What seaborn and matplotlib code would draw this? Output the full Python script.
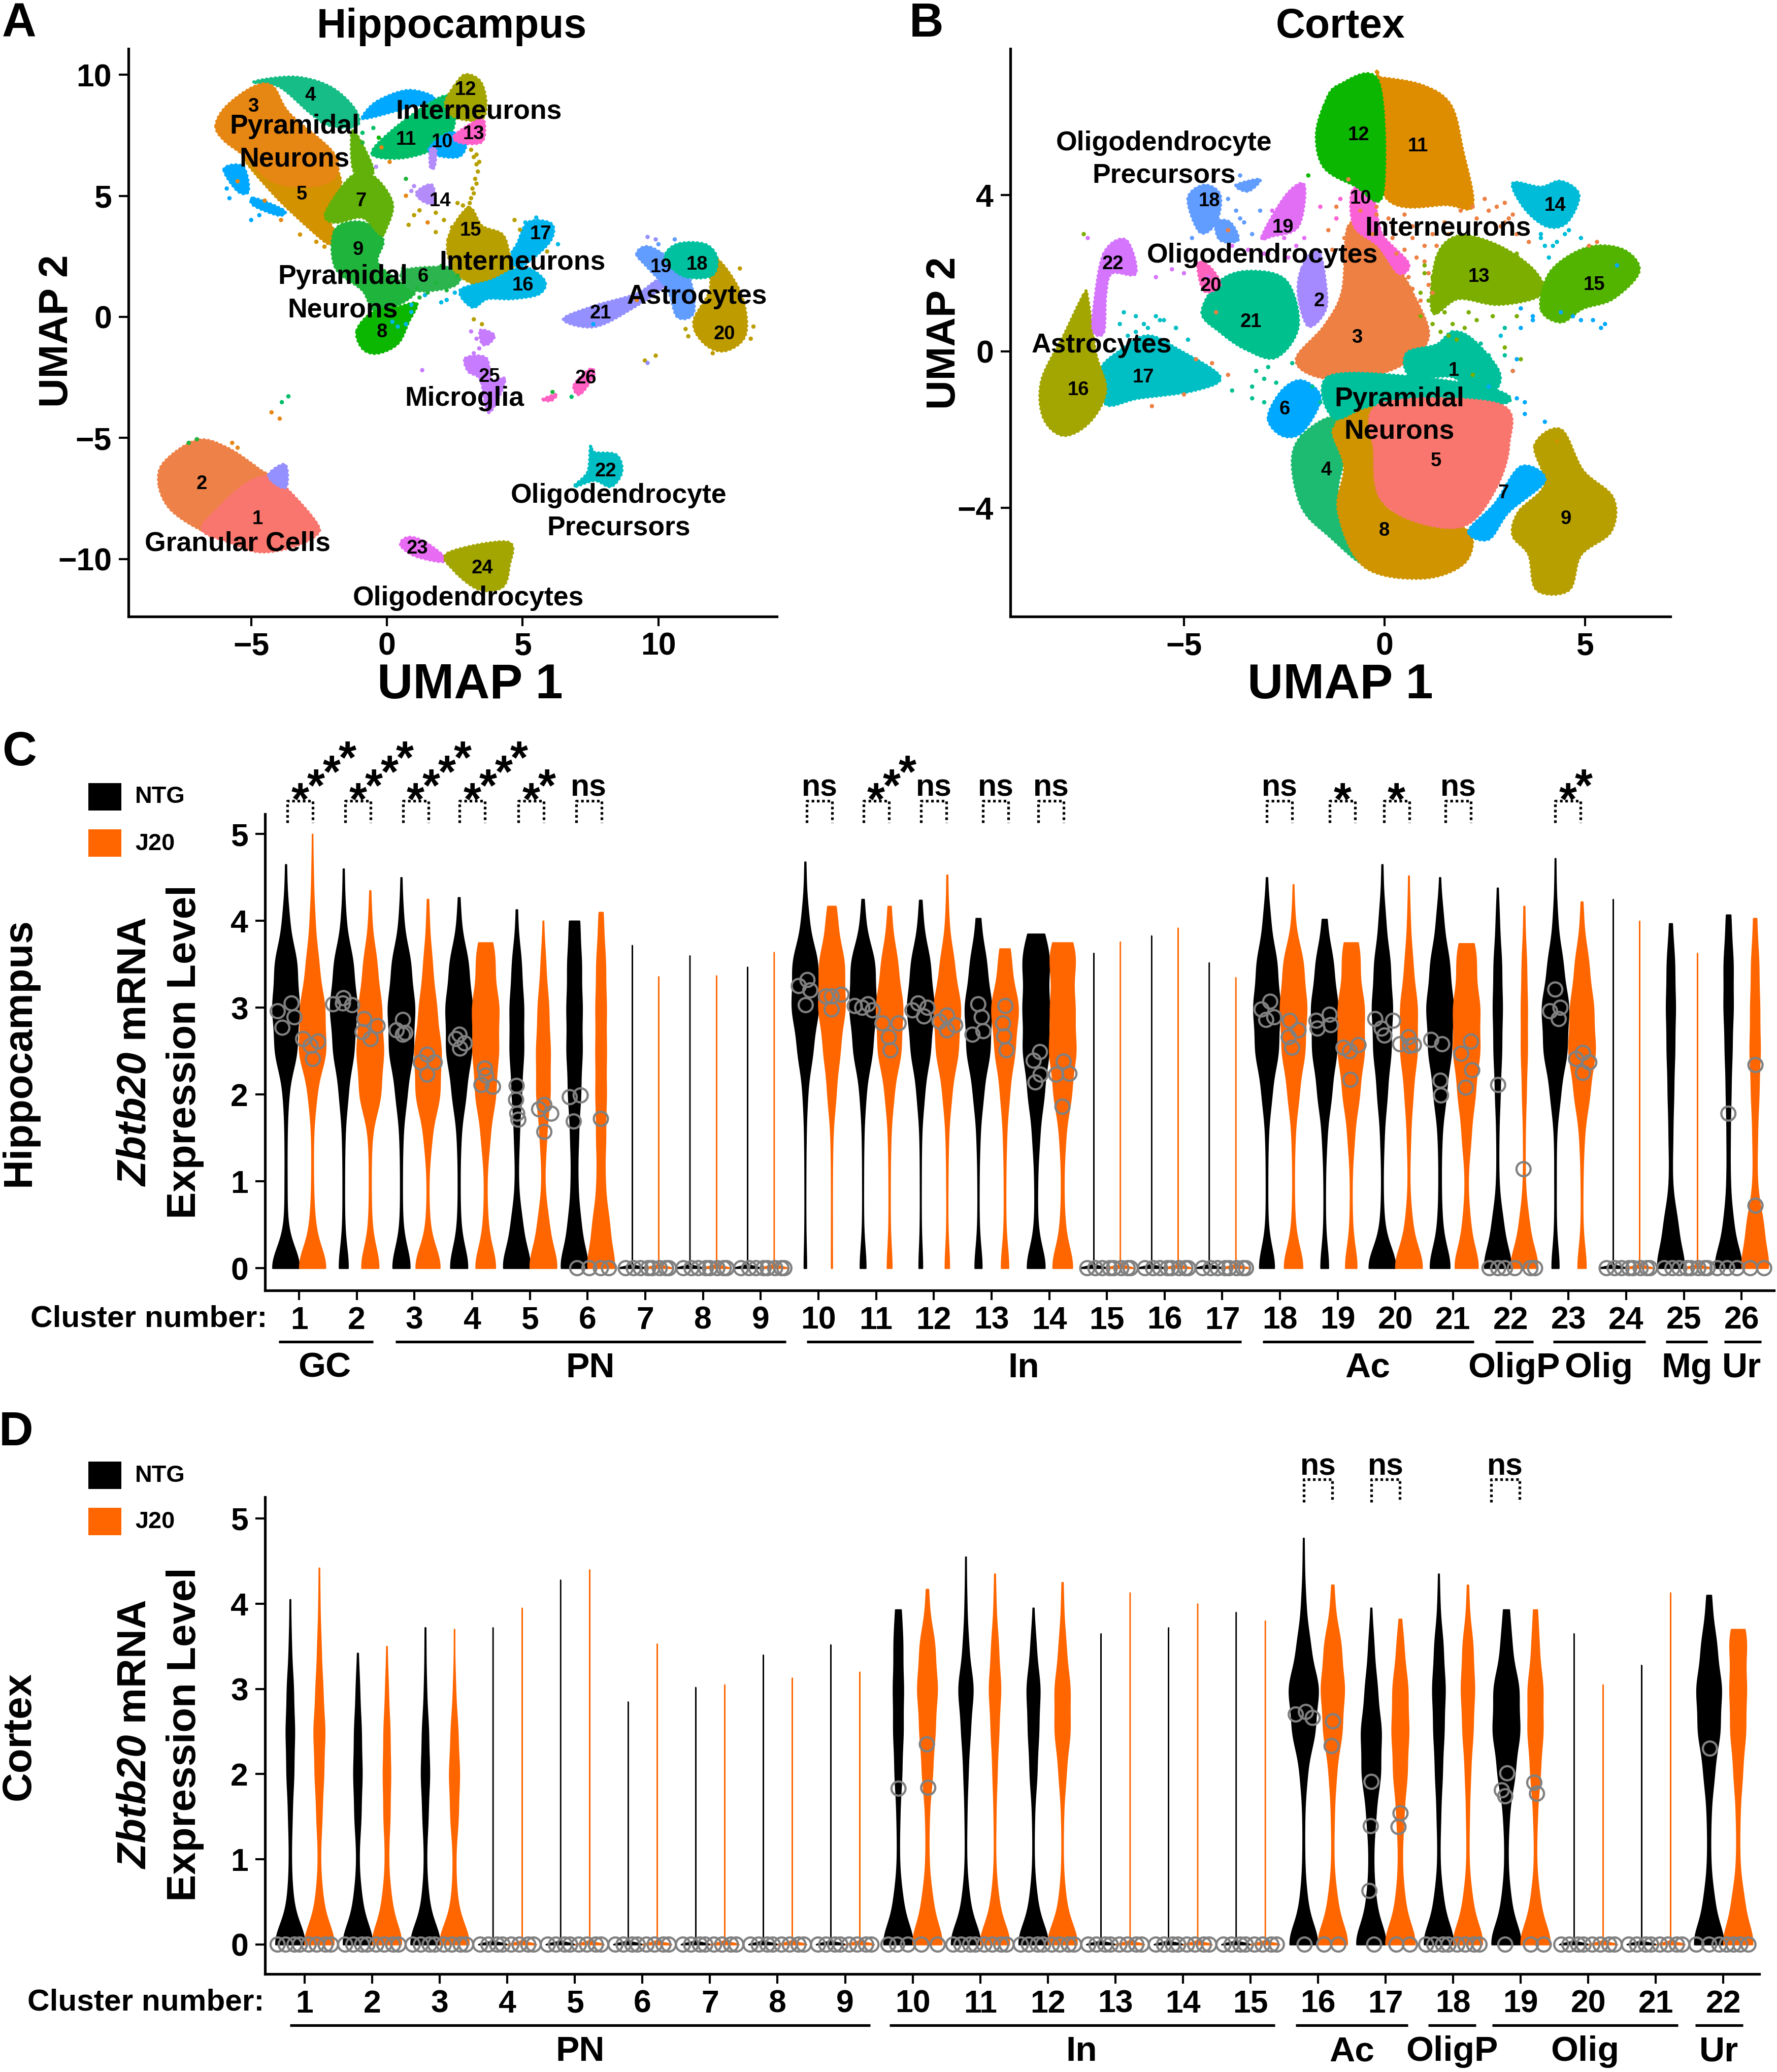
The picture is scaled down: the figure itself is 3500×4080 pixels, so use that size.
import numpy as np, pandas as pd
import matplotlib
matplotlib.use("Agg")
import matplotlib.pyplot as plt
from matplotlib.patches import Rectangle, PathPatch
from matplotlib.path import Path
import seaborn as sns

W, H, DPI = 3500, 4080, 250
NTG_C, J20_C, GRAY = "#000000", "#FF6600", "#808080"

# ---------- UMAP colours ----------
a_colors = {1:"#F8766D",2:"#EE8148",3:"#E68613",4:"#17BD86",5:"#D39200",6:"#2CB54F",7:"#62B10A",8:"#0CB702",9:"#1FB53C",
 10:"#00A9FF",11:"#00BE67",12:"#A3A500",13:"#FF61C9",14:"#B48CFA",15:"#B79F00",16:"#00B8E7",17:"#00B4F0",18:"#00C19F",
 19:"#619CFF",20:"#BE9C00",21:"#9590FF",22:"#00BFC4",23:"#E76BF3",24:"#A3A500",25:"#C77CFF",26:"#FF61C3"}
b_colors = {1:"#00C09B",2:"#A58AFF",3:"#EE8043",4:"#1DBB72",5:"#F8766D",6:"#00A9FF",7:"#00ACFC",8:"#CF9400",9:"#B79F00",
 10:"#FB61D7",11:"#DE8C00",12:"#0CB702",13:"#7CAE00",14:"#00BCD8",15:"#53B400",16:"#A3A500",17:"#00BFC4",18:"#619CFF",
 19:"#E36EF6",20:"#FF62BC",21:"#00C08E",22:"#D575FE"}

# ---------- Hippocampus UMAP cluster outlines (UMAP 1, UMAP 2) ----------
a02=[(-8.4,-6.9),(-8.2,-6.0),(-7.0,-5.1),(-5.9,-5.4),(-4.7,-6.3),(-4.0,-7.0),(-5.5,-8.5),(-6.1,-9.0),(-7.0,-8.7),(-8.0,-7.9)]
a01=[(-6.3,-8.0),(-5.2,-6.9),(-4.3,-6.6),(-3.6,-7.2),(-2.6,-8.5),(-2.6,-9.0),(-3.5,-9.5),(-4.7,-9.7),(-5.8,-9.3),(-6.8,-8.8)]
a21b=[(-4.35,-6.5),(-3.75,-6.1),(-3.7,-7.0),(-4.1,-6.9)]
a04=[(-4.9,9.7),(-3.4,9.9),(-2.1,9.5),(-1.2,8.6),(-1.1,7.9),(-2.1,7.9),(-2.8,8.4),(-3.95,9.5)]
a05=[(-5.3,6.7),(-4.2,6.7),(-2.4,6.6),(-1.7,5.6),(-2.1,4.1),(-1.9,3.4),(-2.1,3.0),(-2.8,3.6),(-4.2,5.1)]
a03=[(-6.3,7.9),(-5.9,8.7),(-4.9,9.5),(-4.2,9.5),(-3.6,8.4),(-2.0,6.8),(-1.9,5.8),(-2.8,5.4),(-4.2,5.6),(-5.3,6.7),(-6.0,7.3)]
a10b=[(-6.0,6.1),(-5.3,6.2),(-5.1,5.2),(-5.5,5.2)]
a10c=[(-4.9,4.9),(-3.8,4.4),(-4.0,4.2),(-4.9,4.6)]
a09=[(-1.9,3.6),(-0.9,3.9),(-0.15,3.2),(-0.35,2.25),(0.4,1.5),(1.0,0.95),(-0.35,0.2),(-0.9,1.1),(-1.9,2.05)]
a07=[(-2.25,4.3),(-1.3,5.8),(-0.5,5.8),(0.2,4.7),(-0.05,3.6),(-0.25,3.4),(-0.9,4.1),(-1.9,3.9)]
a07b=[(-1.3,7.5),(-1.1,7.5),(-0.5,6.0),(-1.2,6.0)]
a06=[(0.6,1.9),(2.5,2.0),(2.5,1.3),(1.0,1.1)]
a08=[(-1.1,-0.55),(-0.5,0.2),(0.4,0.4),(1.1,0.55),(0.8,-0.2),(0.4,-1.1),(-0.35,-1.5),(-0.9,-1.3)]
a10d=[(-0.9,8.25),(-0.35,8.9),(0.8,9.35),(1.75,9.0),(0.6,8.6),(-0.55,8.25)]
a11=[(-0.55,6.75),(0.2,7.7),(1.55,8.8),(2.3,9.1),(2.5,8.25),(2.3,7.5),(1.55,6.85),(0.4,6.55)]
a12=[(2.5,9.55),(2.9,10.0),(3.45,9.7),(3.65,8.8),(3.45,8.15),(2.5,8.25),(2.15,8.8)]
a10=[(1.55,6.95),(2.3,7.6),(2.9,7.3),(2.7,6.65),(1.95,6.65)]
a13=[(2.5,7.5),(3.45,8.15),(3.6,7.7),(3.45,7.2),(2.7,7.2)]
a14=[(1.1,5.15),(1.65,5.45),(1.75,4.7),(1.3,4.8)]
a14b=[(1.6,6.9),(1.8,6.9),(1.75,6.2),(1.6,6.2)]
a15=[(2.25,3.2),(3.0,4.5),(3.5,3.75),(4.25,3.4),(4.5,2.6),(4.6,1.7),(3.5,1.3),(2.5,1.9)]
a16=[(2.7,1.1),(3.85,1.5),(5.0,2.05),(5.8,1.5),(5.6,0.95),(4.6,0.75),(3.7,0.75),(3.15,0.4)]
a17=[(4.8,3.0),(5.2,3.9),(6.05,3.85),(6.05,3.2),(5.4,2.45),(4.8,2.05),(4.6,2.6)]
a21=[(6.5,-0.1),(7.65,0.45),(9.2,0.95),(9.95,1.5),(10.35,1.4),(9.1,0.4),(7.65,-0.4)]
a19=[(9.2,2.6),(9.6,2.9),(10.35,2.45),(11.1,1.7),(11.3,0.2),(10.7,0),(10.35,1.1),(9.6,2.05)]
a20=[(11.9,2.45),(12.45,2.05),(13.1,0.75),(13.2,-0.75),(12.45,-1.4),(11.7,-1.1),(11.3,-0.2),(11.9,1.1)]
a18=[(10.25,2.45),(10.7,3.0),(11.7,3.0),(12.15,2.45),(11.95,1.7),(10.9,1.7)]
a22=[(7.5,-5.35),(7.65,-5.6),(8.45,-5.7),(8.65,-6.4),(8.25,-7.0),(7.65,-6.75),(6.9,-7.0),(7.4,-6.4)]
a23=[(0.5,-9.4),(0.8,-9.1),(1.4,-9.3),(2.15,-9.95),(1.95,-10.1),(1.0,-9.85)]
a24=[(2.25,-9.75),(4.45,-9.3),(4.5,-10.3),(4.25,-11.15),(3.4,-11.25),(2.5,-10.5)]
a25=[(2.9,-1.7),(3.65,-1.7),(3.85,-2.6),(4.35,-2.6),(3.75,-3.95),(3.45,-2.6),(3.0,-2.25)]
a25b=[(3.45,-0.55),(3.95,-0.75),(3.75,-1.1),(3.5,-1.1)]
a26=[(6.9,-2.8),(7.5,-2.15),(7.6,-2.45),(7.1,-3.2)]
a26b=[(5.75,-3.4),(6.25,-3.2),(6.05,-3.45)]
a_outlines=[(2,a02),(1,a01),(21,a21b),(4,a04),(5,a05),(3,a03),(10,a10b),(10,a10c),(9,a09),(7,a07),(7,a07b),(6,a06),(8,a08),(10,a10d),
 (11,a11),(12,a12),(10,a10),(13,a13),(14,a14),(14,a14b),(15,a15),(16,a16),(17,a17),(21,a21),(19,a19),(20,a20),(18,a18),
 (22,a22),(23,a23),(24,a24),(25,a25),(25,a25b),(26,a26),(26,a26b)]

# scattered single cells, hippocampus
a_dots_x=[-4.25,-3.87,-3.63,-3.95,-0.9,-0.5,-0.3,-0.9,-0.2,0.1,-0.4,0.7,1.0,0.9,0.7,1.2,1.0,0.8,1.5,1.8,2.1,2.4,1.8,
 3.2,3.5,3.1,3.3,3.4,3.2,6.1,6.8,9.5,9.9,9.6,11.1,11.0,5.7,6.3,5.9,1.3,-7.3,-7.0,-5.7,-5.5,
 0.2,0.5,0.9,1.4,2.2,2.5,7.6,8.3,9.2,
 3.1,3.2,3.3,3.35,3.25,3.3,3.15,3.2,3.1,3.05,3.0,2.8,2.6,3.4,3.3,
 -0.2,0.0,0.2,0.4,0.7,1.1,1.2,1.5,1.8,2.0,2.2,2.6,2.0,0.9,1.3,0.6,0.3,
 9.6,9.9,10.0,10.6,12.0,11.4,13.4,13.5,13.0,4.7,4.9,5.1,5.5,
 -5.8,-5.9,-5.5,-4.7,-5.0,-4.5,-3.9,-3.2,-2.6,-2.3]
a_dots_y=[-3.94,-3.52,-3.28,-4.2,7.6,7.8,7.4,7.2,7.0,6.4,6.2,5.7,5.4,5.2,5.0,4.4,4.2,3.8,3.9,4.3,4.0,3.7,3.5,
 -0.1,-0.3,-0.6,-0.9,-1.3,-1.5,-3.1,-3.3,-1.8,-1.6,-1.9,-0.8,-0.5,2.9,3.0,2.7,-2.2,-5.2,-5.05,-5.2,-5.4,
 1.3,0.8,0.2,0.9,0.7,1.0,-0.3,0.1,0.7,
 6.9,6.6,6.3,6.0,5.7,5.5,5.3,5.1,4.9,4.7,4.5,4.6,4.7,6.4,6.7,
 0.9,0.7,-0.2,-0.4,-0.3,1.2,0.8,1.0,1.4,2.1,1.1,1.7,0.6,0.5,1.6,2.0,1.6,
 3.3,3.2,3.0,3.2,-1.5,-0.6,-0.9,-0.4,2.0,4.0,3.6,3.9,4.1,
 4.9,5.3,5.6,4.2,4.0,4.8,4.0,3.4,3.1,2.9]
a_dots_c=[3,11,11,3,11,11,8,9,3,3,14,9,14,14,3,15,15,15,3,15,15,15,15,
 15,15,25,25,25,25,9,11,15,15,21,15,15,16,16,15,25,9,9,3,3,
 9,9,16,16,16,16,10,21,3,
 15,15,15,15,15,15,15,15,15,15,15,15,15,15,15,
 9,9,16,16,16,9,9,9,9,9,9,9,16,16,9,9,9,
 21,21,19,19,20,20,20,20,20,15,15,16,16,
 10,10,3,10,10,3,3,5,5,5]

# ---------- Cortex UMAP cluster outlines ----------
b03=[(-0.9,3.2),(-0.3,3.1),(0.3,2.2),(0.7,1.5),(1.1,0.4),(0.5,-0.3),(-0.5,-0.65),(-1.65,-0.65),(-2.2,-0.2),(-1.5,0.65),(-1.05,1.55)]
b01=[(1.7,0.5),(2.2,0.3),(2.85,-0.5),(2.75,-1.0),(2.2,-1.1),(1.7,-0.65),(0.67,-0.65),(0.55,-0.05),(1.3,0.17)]
b21=[(-4.55,1.0),(-4.1,1.8),(-3.35,2.05),(-2.45,1.8),(-2.15,0.65),(-2.7,-0.15),(-3.45,0.05),(-4.1,0.5)]
b02=[(-2.05,2.15),(-1.65,2.6),(-1.45,1.55),(-1.5,1.0),(-1.9,0.65),(-2.15,1.45)]
b04=[(-2.05,-2.15),(-1.25,-1.7),(-1.0,-2.6),(-1.15,-3.75),(-0.5,-5.4),(-1.4,-4.7),(-2.05,-4.0),(-2.3,-2.85)]
b08=[(-1.25,-1.9),(-0.1,-1.45),(-0.1,-3.75),(0.95,-4.35),(2.1,-4.6),(2.0,-5.4),(0.95,-5.8),(-0.5,-5.5),(-1.15,-4.1),(-1.0,-2.95)]
b05=[(-0.1,-1.35),(2.85,-1.35),(3.1,-2.4),(2.75,-3.55),(2.0,-4.45),(0.8,-4.35),(-0.1,-3.75),(-0.25,-2.6)]
b01b=[(-1.4,-0.65),(0.7,-0.65),(2.8,-1.0),(2.85,-1.35),(-0.1,-1.35),(-1.25,-1.7)]
b06=[(-2.9,-1.7),(-2.55,-1.0),(-2.05,-0.75),(-1.6,-1.2),(-2.05,-2.05),(-2.55,-2.15)]
b09=[(3.75,-2.4),(4.4,-2.0),(4.95,-3.05),(5.7,-3.75),(5.65,-4.6),(4.9,-5.2),(4.6,-6.1),(3.8,-6.1),(3.6,-5.2),(3.2,-4.7),(3.35,-4.1),(4.0,-3.4)]
b07=[(2.1,-4.6),(2.75,-3.9),(3.4,-2.95),(4.0,-3.3),(3.1,-4.1),(2.6,-4.8)]
b10=[(-0.8,4.1),(-0.35,4.15),(-0.15,3.3),(0.0,2.9),(0.6,2.25),(0.35,2.0),(-0.15,2.7),(-0.75,3.2)]
b11=[(-0.1,7.0),(0.95,6.8),(1.65,6.3),(1.95,5.15),(2.2,3.75),(1.6,3.75),(0.0,4.0),(-0.15,6.95)]
b12=[(-1.5,6.3),(-1.15,6.8),(-0.15,6.9),(-0.05,4.0),(-0.75,4.25),(-1.5,4.7),(-1.7,5.5)]
b13=[(1.3,2.4),(1.85,2.95),(2.85,2.7),(3.75,2.05),(3.9,1.45),(2.85,1.2),(1.85,1.35),(1.2,1.0)]
b14=[(3.2,4.3),(3.9,4.2),(4.4,4.35),(4.85,4.0),(4.55,3.3),(4.05,3.2),(3.5,3.65)]
b15=[(3.9,1.1),(4.15,2.05),(5.05,2.65),(5.95,2.6),(6.35,2.05),(5.7,1.35),(4.95,1.1),(4.4,0.75)]
b17=[(-7.1,-0.5),(-6.55,0.05),(-5.9,0.4),(-5.15,0.05),(-4.1,-0.65),(-4.75,-1.0),(-6.15,-1.2),(-6.95,-1.35)]
b16=[(-7.5,1.45),(-7.4,1.35),(-7.2,-0.05),(-6.95,-1.0),(-7.35,-1.8),(-8.0,-2.15),(-8.5,-1.7),(-8.55,-0.75),(-8.0,0.4)]
b18=[(-4.9,3.9),(-4.5,4.25),(-4.1,4.0),(-4.2,3.3),(-4.6,3.05)]
b18c=[(-4.2,3.3),(-3.85,3.3),(-3.65,2.85),(-4.1,2.85)]
b18b=[(-3.7,4.25),(-3.1,4.4),(-3.4,4.1)]
b19=[(-3.05,2.95),(-2.45,4.0),(-2.0,4.25),(-2.15,3.2),(-2.8,2.95)]
b20=[(-4.65,2.25),(-4.35,2.15),(-4.1,1.7),(-4.5,1.55)]
b22=[(-7.0,2.5),(-6.45,2.85),(-6.2,2.0),(-6.8,2.0),(-6.95,1.45),(-7.0,0.5),(-7.25,0.5),(-7.25,1.1)]
b_outlines=[(3,b03),(1,b01),(21,b21),(2,b02),(4,b04),(8,b08),(1,b01b),(5,b05),(6,b06),(9,b09),(7,b07),(10,b10),(11,b11),(12,b12),
 (13,b13),(14,b14),(15,b15),(17,b17),(16,b16),(18,b18),(18,b18c),(18,b18b),(19,b19),(20,b20),(22,b22)]

# scattered single cells, cortex
b_dots_x=[0.3,0.6,0.9,0.2,-0.6,-1.2,-1.4,0.7,1.1,-1.3,1.0,0.5,-0.2,1.2,1.5,0.3,0.8,2.3,2.6,3.0,3.1,-0.8,-1.0,0.5,
 1.5,1.2,1.0,1.7,2.1,2.7,3.3,0.9,1.4,1.6,2.4,3.0,
 3.9,4.2,4.5,4.4,3.3,3.6,4.1,5.1,4.9,
 -5.2,-5.6,-6.0,-5.4,-6.2,-4.7,-5.8,-4.3,-3.9,
 -5.3,-5.7,-5.0,-4.4,-3.8,-3.4,-2.9,-2.5,-2.2,-1.9,
 -3.8,-3.3,-3.0,-2.7,-3.2,-2.9,-1.7,-1.3,3.5,4.0,4.3,3.2,3.4,4.7,5.2,-7.5,-7.4,-3.9,-3.6,
 -2.4,-3.0,-2.6,-2.3,-1.8,-1.6,-1.1,-0.9,-0.6,-3.9,-4.2,2.9,3.0,3.3,2.6,-5.0,-3.0,-3.3,
 0.1,0.4,0.7,1.0,-0.3,-0.2,0.2,0.5,0.8,1.1,0.1,0.4,0.7,-0.7,-1.0,-1.2,0.3,0.6,1.2,1.3,1.6,1.9,2.2,2.5,2.8,
 1.0,1.2,1.4,1.1,0.9,1.3,1.6,1.8,2.0,2.3,3.4,3.7,
 -3.9,-3.7,-3.5,-3.3,-3.1,-4.8,-4.7,-3.6,-3.4,-2.2,-2.1,-1.6,-1.2,
 -6.6,-6.2,-5.9,-5.7,-5.5,-5.2,-4.9,-6.5,-6.4,
 2.2,2.4,2.6,3.0,3.2,3.3,3.5,-2.0,-2.3,-2.6,-2.8,-1.7,-1.5,
 3.9,4.0,4.3,4.6,4.9,5.3,5.5,5.4,3.7,3.2,3.0,2.9,5.8,3.4,3.3]
b_dots_y=[2.5,1.9,1.3,3.2,3.6,3.4,3.1,2.9,1.7,2.6,2.3,3.5,3.7,3.0,3.3,1.4,0.7,3.4,3.6,3.8,3.4,2.2,2.6,1.0,
 1.0,0.7,2.0,0.7,1.0,0.9,0.9,1.5,0.5,0.2,0.2,0.6,
 2.9,2.7,3.0,1.0,3.0,2.8,2.4,2.7,0.8,
 0.6,0.8,0.7,0.2,0.5,-0.2,-1.4,-0.3,-0.6,
 2.1,1.9,2.0,1.9,2.7,2.6,2.5,2.9,3.3,4.5,
 -1.0,-1.2,-1.3,-0.8,-0.5,-0.4,-2.2,-1.9,-1.6,-1.8,-2.3,-0.5,-0.2,0.9,0.8,3.0,2.9,3.1,3.4,
 2.4,2.5,0.7,-0.3,-0.9,-1.3,3.9,4.4,3.7,1.3,1.0,0.4,0.1,-0.2,-0.9,-1.1,-0.7,-0.9,
 3.4,3.1,3.2,2.7,3.0,3.5,2.9,2.6,2.4,2.0,1.8,1.7,1.6,2.4,2.9,3.7,0.7,1.2,1.5,2.7,3.0,3.6,3.7,3.9,3.7,
 2.2,1.9,1.7,1.3,0.9,1.0,0.4,0.3,0.6,0.8,1.1,0.8,
 3.9,3.6,3.3,3.0,3.6,2.9,3.6,4.5,4.2,2.7,3.8,3.7,3.4,
 0.7,0.9,0.6,0.9,0.8,0.6,0.3,1.0,0.4,
 -0.6,-0.2,-0.1,-0.1,-0.5,-1.2,-1.3,2.9,3.4,3.3,3.6,-0.3,-0.1,
 3.0,2.7,2.8,3.1,2.9,2.8,0.7,0.6,0.9,3.5,3.3,3.2,2.2,0.6,2.5]
b_dots_c=[3,3,3,3,3,3,3,3,3,3,3,3,3,3,3,3,3,3,3,3,3,3,3,3,
 13,13,13,13,13,13,13,13,13,1,1,1,
 14,14,14,6,3,3,14,3,6,
 17,17,17,17,17,3,3,3,3,
 22,22,22,19,19,19,19,19,19,12,
 21,21,21,21,21,21,4,4,6,6,8,6,13,6,6,13,22,3,18,
 19,19,21,21,1,1,10,3,10,21,3,14,13,6,6,3,21,21,
 3,3,3,3,3,3,3,3,3,3,3,3,3,3,3,3,3,3,3,3,3,3,3,3,3,
 13,13,13,13,13,13,13,13,13,13,6,6,
 18,18,18,18,18,18,18,18,18,19,19,10,10,
 17,17,17,17,17,17,17,17,17,
 13,1,1,1,3,6,6,19,19,19,19,3,3,
 14,14,14,14,14,3,6,6,6,3,3,3,6,6,13]

# ---------- Violin tables: LEVELS are Zbtb20 expression levels; each list is the cell tally per level,
# and its last entry is the tally at that violin's top value ----------
LEVELS=[0,.5,1,1.5,2,2.5,3,3.5,4,4.5]
hip_ntg_tops=[4.65,4.6,4.45,4.27,4.13,4.0,3.72,3.6,3.47,4.68,4.25,4.24,4.03,3.85,3.63,3.83,3.52,4.45,4.02,4.65,4.45,4.38,4.72,4.25,3.97,4.07]
hip_j20_tops=[5.0,4.35,4.25,3.75,4.0,4.1,3.36,3.37,3.64,4.17,4.17,4.53,3.68,3.75,3.76,3.92,3.35,4.42,3.75,4.52,3.74,4.17,4.22,4.0,3.63,4.03]
hip_ntg_counts=[
 [100,8,6,6,15,70,85,70,20,3,1],[38,6,5,8,30,75,100,70,15,3,1],[75,8,6,10,40,90,100,70,15,2,1],[75,10,6,12,50,95,100,70,12,1],
 [100,35,8,15,30,45,45,30,4,1],[100,40,20,25,40,50,50,45,35],[1000,1],[1000,1],[1000,1],
 [10,3,3,5,15,55,100,95,25,4,1],[25,3,3,5,20,70,100,90,15,1],[15,3,3,5,25,70,100,70,15,1],[30,4,4,10,35,85,100,60,15,1],
 [80,10,10,25,60,100,100,95,45],[1000,1],[1000,1],[1000,1],
 [65,6,5,8,35,85,100,75,25,2,1],[33,5,5,15,50,90,100,65,15,1],[100,10,4,10,30,55,65,50,20,3,1],[85,15,8,12,45,85,100,70,25,1,1],
 [100,35,6,6,15,25,30,25,10,1],[30,5,5,6,35,85,100,55,15,3,1],[1000,1],[100,45,8,12,18,25,30,25,8],[100,30,10,10,15,22,30,30,15,1]]
hip_j20_counts=[
 [100,15,5,5,25,90,80,40,15,5,1],[75,10,6,10,80,100,85,50,10,1],[100,10,5,25,85,95,60,30,8,1],[85,15,8,30,75,95,100,55,30],
 [100,35,7,20,45,45,35,15,1],[100,55,25,30,35,35,35,30,15,1],[1000,1],[1000,1],[1000,1],
 [4,3,3,6,30,60,100,95,35,8],[20,4,4,8,30,85,100,60,15,1],[18,3,4,8,30,80,100,50,10,2,1],[30,5,5,10,30,70,100,35,15],
 [85,15,8,20,65,100,90,75,45],[1000,1],[1000,1],[1000,1],
 [80,10,5,10,40,85,100,75,10,1],[45,7,5,20,55,90,90,45,30],[100,20,4,10,25,55,55,25,8,1,1],[95,25,8,30,60,95,95,55,30],
 [100,30,5,5,12,20,20,15,3,1],[35,5,6,15,55,100,85,50,10,1],[1000,1],[1000,1],[100,55,12,15,25,35,30,25,10,1]]
ctx_ntg_tops=[4.05,3.42,3.72,3.72,4.28,2.85,3.02,3.4,3.52,3.93,4.55,3.95,3.65,3.72,3.9,4.77,3.95,4.35,3.93,3.65,3.28,4.1]
ctx_j20_tops=[4.42,3.5,3.7,3.95,4.4,3.53,3.05,3.13,3.2,4.17,4.35,4.25,4.13,4.0,3.8,4.22,3.82,4.22,3.93,3.05,4.13,3.7]
ctx_ntg_counts=[
 [100,15,5,10,20,25,18,6,1,1],[100,22,5,18,25,20,10,1],[100,18,5,15,25,18,6,2,1],[1000,1],[1000,1],[1000,1],[1000,1],[1000,1],[1000,1],
 [100,25,5,8,20,28,30,25,15],[100,20,3,5,12,25,45,15,5,1,1],[100,20,3,5,20,30,40,15,1],[1000,1],[1000,1],[1000,1],
 [100,20,5,5,20,70,95,40,12,3,1],[100,25,12,25,55,60,35,15,1],[100,25,5,10,20,30,38,25,5,1],[100,25,8,15,50,80,75,30,15],
 [1000,1],[1000,1],[100,30,8,10,30,65,75,45,15,1]]
ctx_j20_counts=[
 [100,20,5,15,25,33,20,10,3,1],[100,25,8,18,22,18,8,1],[100,15,6,22,30,20,6,1],[1000,1],[1000,1],[1000,1],[1000,1],[1000,1],[1000,1],
 [100,30,8,10,30,45,60,45,8,1],[100,20,3,5,12,22,35,20,5,1],[100,18,3,5,20,45,45,20,5,1],[1000,1],[1000,1],[1000,1],
 [100,25,5,8,20,55,70,50,10,1],[100,25,10,20,40,50,45,20,1],[100,25,5,8,15,30,40,30,5,1],[100,25,5,10,28,45,45,20,10],
 [1000,1],[1000,1],[100,35,8,10,25,45,50,40,20]]

# ---------- Individual-sample circles (cluster position, expression) ----------
hip_circle_x=[.63,.87,.92,.71, 1.07,1.2,1.33,1.24, 1.59,1.77,1.76,1.92, 2.13,2.1,2.24,2.36, 2.69,2.8,2.84,2.8, 3.11,3.22,3.35,3.22,
 3.72,3.78,3.87,3.79, 4.22,4.24,4.16,4.36, 4.77,4.76,4.78,4.8, 5.16,5.25,5.37,5.25, 5.69,5.88,5.76,5.82, 6.23,6.03,6.23,6.37,
 9.66,9.81,9.86,9.78, 10.13,10.23,10.4,10.23, 10.63,10.76,10.86,10.94, 11.11,11.39,11.22,11.25, 11.63,11.73,11.83,11.89,
 12.1,12.23,12.23,12.37, 12.67,12.77,12.83,12.86, 13.24,13.2,13.22,13.26, 13.73,13.84,13.85,13.76, 14.12,14.25,14.35,14.23,
 17.68,17.83,17.9,17.76, 18.17,18.32,18.15,18.21, 18.63,18.65,18.86,18.88, 19.1,19.21,19.36,19.22,
 19.65,19.76,19.81,19.96, 20.08,20.23,20.25,20.32, 20.62,20.81,20.78,20.79, 21.14,21.31,21.33,21.22,
 21.78,21.63,21.78,21.9, 22.22,22.07,22.34,22.42, 22.77,22.86,22.68,22.83, 23.25,23.13,23.36,23.25,
 25.77,25.58,25.75,25.92, 26.24,26.24,26.15,26.39]
hip_circle_y=[2.96,3.05,2.89,2.77, 2.64,2.56,2.61,2.41, 3.04,3.11,3.05,3.03, 2.87,2.72,2.64,2.79, 2.74,2.86,2.71,2.69, 2.37,2.46,2.37,2.23,
 2.64,2.69,2.59,2.53, 2.3,2.22,2.11,2.09, 2.1,1.94,1.78,1.71, 1.83,1.88,1.78,1.57, 1.97,1.99,1.69,0, 1.72,0,0,0,
 3.25,3.32,3.2,3.03, 3.13,3.13,3.15,2.98, 3.02,3.0,3.04,2.97, 2.82,2.82,2.66,2.51, 2.97,3.05,2.9,3.0,
 2.84,2.91,2.74,2.8, 2.69,3.04,2.89,2.73, 3.02,2.82,2.67,2.51, 2.39,2.49,2.23,2.14, 2.23,2.38,2.24,1.86,
 2.98,3.07,2.89,2.86, 2.85,2.74,2.66,2.54, 2.85,2.76,2.92,2.8, 2.54,2.5,2.57,2.17,
 2.87,2.76,2.68,2.85, 2.58,2.66,2.56,2.57, 2.63,2.58,2.16,1.99, 2.47,2.61,2.28,2.08,
 2.11,0,0,0, 1.14,0,0,0, 3.21,3.0,2.96,2.87, 2.48,2.41,2.37,2.25,
 1.78,0,0,0, 2.34,.72,0,0]
hip_zero_clusters=[7,8,9,15,16,17,24,25]
hip_zero_dx=[-.34,-.2,-.08,.05,.12,.25,.36,.41]
ctx_circle_x=[9.79,9.64,9.77,9.93, 10.21,10.23,10.13,10.37, 15.67,15.82,15.92,15.8, 16.22,16.2,16.09,16.3,
 16.79,16.78,16.76,16.83, 17.22,17.19,17.16,17.36, 18.8,18.72,18.77,18.77, 19.2,19.24,19.15,19.34,
 21.8,21.6,21.79,21.94, 22.05,22.15,22.25,22.37]
ctx_circle_y=[1.83,0,0,0, 2.35,1.84,0,0, 2.7,2.73,2.66,0, 2.62,2.33,0,0,
 1.91,1.39,.63,0, 1.54,1.38,0,0, 2.01,1.81,1.74,0, 1.9,1.77,0,0,
 2.3,0,0,0, 0,0,0,0]
ctx_zero_clusters=[1,2,3,4,5,6,7,8,9,11,12,13,14,15,18,20,21]
ctx_zero_dx=[-.4,-.28,-.15,-.07,.06,.18,.31,.39]

# ---------- Significance and cell-type groups ----------
hip_sig_clusters=[1.02,2.02,3.02,4.0,5.02,6.02,10.02,11.0,12.0,13.07,14.03,17.99,19.08,20.02,21.09,22.99]
hip_sig_stars=[4,4,4,4,2,0,0,3,0,0,0,0,1,1,0,2]
ctx_sig_clusters=[16.0,17.0,18.77]
ctx_sig_stars=[0,0,0]
hip_group_names=["GC","PN","In","Ac","OligP","Olig","Mg","Ur"]
hip_group_start=[.65,2.67,9.8,17.7,21.73,22.73,24.69,25.7]
hip_group_end=[2.28,9.44,17.33,21.36,22.39,24.33,25.41,26.34]
hip_group_mid=[1.44,6.05,13.56,19.52,22.05,23.52,25.05,26.0]
ctx_group_names=["PN","In","Ac","OligP","Olig","Ur"]
ctx_group_start=[.78,9.66,15.67,17.63,18.58,21.58]
ctx_group_end=[9.37,15.36,17.33,18.34,21.33,22.29]
ctx_group_mid=[5.08,12.5,16.5,17.98,19.95,21.93]

# ---------- Text labels on the UMAPs ----------
a_num_x=[-4.77,-6.83,-4.92,-2.82,-3.13,1.34,-.95,-.19,-1.07,2.04,.71,2.9,3.19,1.97,3.09,5.0,5.67,11.43,10.1,12.44,7.86,8.05,1.11,3.51,3.78,7.33]
a_num_y=[-8.34,-6.9,8.68,9.15,5.06,1.65,4.78,-.62,2.76,7.22,7.31,9.37,7.55,4.78,3.56,1.31,3.41,2.16,2.06,-.71,.15,-6.37,-9.56,-10.37,-2.47,-2.53]
b_num_x=[1.73,-1.63,-.68,-1.46,1.29,-2.49,2.96,-.01,4.52,-.59,.83,-.65,2.35,4.26,5.23,-7.64,-6.01,-4.37,-2.53,-4.33,-3.33,-6.78]
b_num_y=[-.5,1.28,.35,-3.04,-2.81,-1.48,-3.62,-4.58,-4.29,3.91,5.24,5.53,1.91,3.73,1.7,-.99,-.66,3.85,3.17,1.68,.75,2.23]
a_text=[("Pyramidal",-3.4,7.87),("Neurons",-3.4,6.52),("Interneurons",3.38,8.49),("Interneurons",5.0,2.25),("Pyramidal",-1.62,1.65),
 ("Neurons",-1.62,.28),("Astrocytes",11.43,.84),("Microglia",2.86,-3.37),("Granular Cells",-5.5,-9.37),("Oligodendrocyte",8.53,-7.37),
 ("Precursors",8.53,-8.72),("Oligodendrocytes",3.0,-11.62)]
b_text=[("Oligodendrocyte",-5.5,5.33),("Precursors",-5.5,4.5),("Oligodendrocytes",-3.05,2.46),("Interneurons",1.58,3.15),
 ("Astrocytes",-7.05,.15),("Pyramidal",.37,-1.22),("Neurons",.37,-2.05)]

# ---------- Figure ----------
sns.set_theme(style="ticks", rc={"axes.linewidth":1.5,"xtick.major.width":1.2,"ytick.major.width":1.2,
    "xtick.major.size":5.5,"ytick.major.size":5.5,"xtick.major.pad":3,"ytick.major.pad":4})
plt.rcParams["font.family"]=["Liberation Sans","DejaVu Sans"]
plt.rcParams["font.weight"]="bold"
plt.rcParams["mathtext.fontset"]="custom"
plt.rcParams["mathtext.bfit"]="Liberation Sans:italic:bold"
plt.rcParams["mathtext.rm"]="Liberation Sans:bold"
plt.rcParams["mathtext.default"]="regular"
TICK_FS=18
fig=plt.figure(figsize=(W/DPI,H/DPI),dpi=DPI,facecolor="white")

def box(l,r,t,b):
    return fig.add_axes([l/W,1-b/H,(r-l)/W,(b-t)/H])
def ftext(x,y,s,fs,**k):
    k.setdefault("ha","center"); k.setdefault("va","center")
    return fig.text(x/W,1-y/H,s,fontsize=fs,fontweight="bold",color="black",**k)

def blob(poly):
    # closed curve running through the outline's read vertices
    p=np.array(poly,float); n=len(p)
    verts=[p[0]]; codes=[Path.MOVETO]
    for i in range(n):
        p0,p1,p2,p3=p[i-1],p[i],p[(i+1)%n],p[(i+2)%n]
        verts+=[p1+(p2-p0)/6,p2-(p3-p1)/6,p2]
        codes+=[Path.CURVE4]*3
    return Path(verts,codes)

def umap(ax,outlines,colors,dx,dy,dc,nx,ny,labels,xlim,ylim,xt,yt):
    for cl,poly in outlines:
        c=colors[cl]; path=blob(poly)
        ax.add_patch(PathPatch(path,fc=c,ec=c,lw=0.8,joinstyle="round",zorder=2))
        ax.add_patch(PathPatch(path,fc="none",ec=c,lw=1.9,ls=(0,(0.01,1.3)),capstyle="round",zorder=2))
    d=pd.DataFrame({"UMAP1":dx,"UMAP2":dy,"cluster":dc})
    sns.scatterplot(data=d,x="UMAP1",y="UMAP2",hue="cluster",palette=colors,s=6,linewidth=0,legend=False,ax=ax,zorder=3)
    for i,(x,y) in enumerate(zip(nx,ny)):
        ax.text(x,y,str(i+1),fontsize=11,ha="center",va="center",color="black",zorder=6)
    for s,x,y in labels:
        ax.text(x,y,s,fontsize=15.4,ha="center",va="center",color="black",zorder=7)
    ax.set_xlim(*xlim); ax.set_ylim(*ylim)
    ax.set_xticks(xt); ax.set_yticks(yt)
    ax.set_xlabel(""); ax.set_ylabel("")
    ax.tick_params(labelsize=TICK_FS,color="black",labelcolor="black")
    sns.despine(ax=ax)
    for s in ("left","bottom"): ax.spines[s].set_color("black")

axA=box(253,1530,96,1214)
umap(axA,a_outlines,a_colors,a_dots_x,a_dots_y,a_dots_c,a_num_x,a_num_y,a_text,(-9.52,14.36),(-12.37,11.07),[-5,0,5,10],[-10,-5,0,5,10])
axB=box(1990,3290,96,1214)
umap(axB,b_outlines,b_colors,b_dots_x,b_dots_y,b_dots_c,b_num_x,b_num_y,b_text,(-9.33,7.13),(-6.78,7.74),[-5,0,5],[-4,0,4])

def kernel(kde):
    # a smooth kernel for violins with real spread, a sharp one for clusters that sit almost wholly at zero
    s=kde.dataset.std(ddof=1)
    return (0.24 if s>0.3 else 0.02)/s

def violins(ax,ntg_c,ntg_t,j20_c,j20_t,width):
    rows=[]
    for group,counts,tops in (("NTG",ntg_c,ntg_t),("J20",j20_c,j20_t)):
        for i,(cnt,top) in enumerate(zip(counts,tops)):
            vals=np.repeat(LEVELS[:len(cnt)-1],cnt[:-1]).tolist()+[top]*cnt[-1]
            rows.append(pd.DataFrame({"cluster":i+1,"group":group,"expr":vals}))
    df=pd.concat(rows,ignore_index=True)
    n=len(ntg_c)
    sns.violinplot(data=df,x="cluster",y="expr",hue="group",order=list(range(1,n+1)),hue_order=["NTG","J20"],
        palette={"NTG":NTG_C,"J20":J20_C},width=width,gap=0,cut=0,density_norm="width",common_norm=False,inner=None,
        linewidth=0.7,bw_method=kernel,gridsize=400,saturation=1,legend=False,ax=ax)
    for coll in ax.collections:
        coll.set_edgecolor(coll.get_facecolor())
    ax.set_xticks(range(n)); ax.set_xticklabels([str(i+1) for i in range(n)])
    ax.set_xlabel(""); ax.set_ylabel(""); ax.set_yticks(range(6))
    ax.tick_params(labelsize=TICK_FS,color="black",labelcolor="black")
    sns.despine(ax=ax)
    for s in ("left","bottom"): ax.spines[s].set_color("black")

def circles(ax,cx,cy,zero_clusters,zero_dx):
    xs=[c-1 for c in cx]; ys=list(cy)
    for c in zero_clusters:
        for d in zero_dx:
            xs.append(c-1+d); ys.append(0)
    sns.scatterplot(x=xs,y=ys,s=64,linewidth=1.25,edgecolor=GRAY,marker="o",legend=False,ax=ax,zorder=5,clip_on=False)
    p=ax.collections[-1]; p.set_facecolor("none"); p.set_edgecolor(GRAY)

def sig(ax,clusters,stars,top,bot,ns_y,star_y,half):
    for c,nst in zip(clusters,stars):
        i=c-1
        ax.plot([i-half,i-half,i+half,i+half],[bot,top,top,bot],color="black",lw=1.5,ls=(0,(1,1)),clip_on=False,zorder=6)
        if nst==0:
            ax.text(i,ns_y,"ns",fontsize=17.5,ha="center",va="center",color="black",clip_on=False)
        for k in range(nst):
            ax.annotate("*",xy=(i,star_y),xytext=(8.9*k,7.8*k-15),textcoords="offset points",fontsize=26,ha="center",va="baseline",
                        color="black",annotation_clip=False)

def groups(ax,names,st,en,mid,ly,ty):
    for nm,a,b,m in zip(names,st,en,mid):
        ax.plot([a-1,b-1],[ly,ly],color="black",lw=1.5,clip_on=False,solid_capstyle="butt")
        ax.text(m-1,ty,nm,fontsize=20,ha="center",va="center",color="black",clip_on=False)

axC=box(522,3494,1603,2541)
violins(axC,hip_ntg_counts,hip_ntg_tops,hip_j20_counts,hip_j20_tops,0.92)
circles(axC,hip_circle_x,hip_circle_y,hip_zero_clusters,hip_zero_dx)
axC.set_xlim(-.59,25.56); axC.set_ylim(-.257,5.23)
sig(axC,hip_sig_clusters,hip_sig_stars,5.38,5.13,5.53,5.53,.22)
groups(axC,hip_group_names,hip_group_start,hip_group_end,hip_group_mid,-.85,-1.15)

axD=box(522,3465,2948,3887)
violins(axD,ctx_ntg_counts,ctx_ntg_tops,ctx_j20_counts,ctx_j20_tops,0.86)
circles(axD,ctx_circle_x,ctx_circle_y,ctx_zero_clusters,ctx_zero_dx)
axD.set_xlim(-.586,21.53); axD.set_ylim(-.346,5.25)
sig(axD,ctx_sig_clusters,ctx_sig_stars,5.46,5.19,5.6,5.6,.21)
groups(axD,ctx_group_names,ctx_group_start,ctx_group_end,ctx_group_mid,-.95,-1.26)

# ---------- Titles and labels ----------
ftext(890,53,"Hippocampus",23.2); ftext(2640,53,"Cortex",23.2)
ftext(926,1350,"UMAP 1",28); ftext(2640,1350,"UMAP 1",28)
ftext(112,652,"UMAP 2",23,rotation=90); ftext(1860,656,"UMAP 2",23,rotation=90)
for s,x,y in (("A",38,48),("B",1825,48),("C",38,1482),("D",32,2822)):
    ftext(x,y,s,27)
ftext(38,2072,"Hippocampus",23,rotation=90); ftext(38,3418,"Cortex",23,rotation=90)
for yc in (2071,3415):
    ftext(267,yc,r"$\mathbfit{Zbtb20}$ mRNA",23,rotation=90)
    ftext(365,yc,"Expression Level",23,rotation=90)
ftext(526,2597,"Cluster number:",17.4,ha="right"); ftext(520,3943,"Cluster number:",17.4,ha="right")
for (y1,y2,ty1,ty2) in ((1542,1633,1569,1662),(2878,2969,2906,2997)):
    fig.add_artist(Rectangle((174/W,1-(y1+54)/H),65/W,54/H,transform=fig.transFigure,fc=NTG_C,ec="none"))
    fig.add_artist(Rectangle((174/W,1-(y2+54)/H),65/W,54/H,transform=fig.transFigure,fc=J20_C,ec="none"))
    ftext(266,ty1,"NTG",13.5,ha="left"); ftext(266,ty2,"J20",13.5,ha="left")

fig.savefig("out.png",dpi=DPI,facecolor="white")
